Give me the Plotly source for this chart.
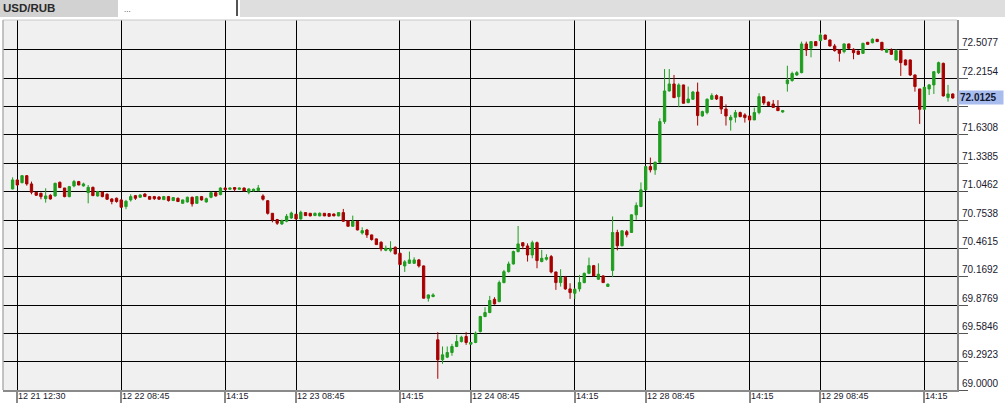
import plotly.graph_objects as go

# ---------------- data ----------------
bar_index = list(range(200))

open_ = [
71.074,71.167,71.139,71.211,71.126,71.040,71.029,70.974,71.009,71.002,
71.143,71.084,70.995,71.105,71.150,71.105,71.036,71.091,71.002,71.043,
71.019,70.971,70.978,70.961,70.892,70.961,71.005,70.988,71.022,70.995,
70.995,70.992,70.964,70.995,70.954,70.978,70.926,70.940,70.988,70.926,
70.995,70.940,70.988,71.036,71.016,71.084,71.071,71.088,71.071,71.084,
71.040,71.054,71.057,71.002,70.953,70.823,70.758,70.713,70.741,70.775,
70.813,70.765,70.830,70.823,70.799,70.796,70.823,70.820,70.816,70.796,
70.830,70.747,70.689,70.741,70.620,70.651,70.600,70.559,70.524,70.442,
70.438,70.473,70.411,70.280,70.307,70.307,70.342,70.280,69.947,69.964,
69.518,69.312,69.339,69.387,69.449,69.500,69.552,69.473,69.490,69.603,
69.758,69.799,69.936,69.912,70.108,70.221,70.300,70.428,70.520,70.486,
70.393,70.520,70.325,70.349,70.376,70.218,70.108,70.163,70.043,69.998,
70.043,70.108,70.204,70.283,70.143,70.177,70.069,70.234,70.625,70.488,
70.633,70.625,70.807,70.893,71.065,71.305,71.271,71.350,71.769,72.085,
72.157,72.026,72.147,71.965,71.999,72.074,71.827,71.862,71.999,72.037,
72.026,71.899,71.786,71.814,71.862,71.838,71.827,71.786,71.862,72.026,
71.970,71.950,71.915,71.868,72.160,72.192,72.250,72.274,72.570,72.525,
72.594,72.604,72.662,72.611,72.549,72.508,72.491,72.570,72.515,72.497,
72.473,72.587,72.583,72.618,72.587,72.484,72.508,72.405,72.501,72.405,
72.405,72.250,72.106,71.896,72.106,72.147,72.274,72.370,72.017,72.054,
]

high_ = [
71.194,71.172,71.218,71.218,71.150,71.043,71.036,71.081,71.019,71.139,
71.150,71.084,71.105,71.167,71.157,71.139,71.115,71.098,71.054,71.047,
71.029,70.978,70.985,70.968,70.961,71.019,71.012,71.019,71.029,71.002,
71.002,70.998,71.002,71.002,70.988,70.985,70.964,70.995,70.995,71.002,
71.002,70.985,71.047,71.043,71.091,71.088,71.088,71.091,71.088,71.088,
71.081,71.078,71.115,71.019,70.960,70.826,70.765,70.758,70.816,70.840,
70.816,70.850,70.833,70.826,70.830,70.833,70.826,70.823,70.820,70.833,
70.868,70.750,70.799,70.744,70.679,70.662,70.603,70.562,70.535,70.490,
70.535,70.480,70.414,70.340,70.428,70.369,70.352,70.285,69.985,69.998,
69.597,69.449,69.449,69.476,69.569,69.559,69.597,69.493,69.603,69.765,
69.854,69.971,69.957,70.129,70.239,70.325,70.438,70.692,70.522,70.513,
70.541,70.531,70.445,70.400,70.393,70.218,70.246,70.177,70.101,70.050,
70.187,70.211,70.366,70.290,70.307,70.183,70.101,70.790,70.653,70.648,
70.651,70.812,70.935,71.141,71.312,71.398,71.355,71.803,72.311,72.311,
72.250,72.164,72.150,72.130,72.085,72.171,71.882,72.009,72.061,72.050,
72.026,71.947,71.838,71.889,71.872,71.855,71.827,71.913,72.061,72.026,
71.975,71.992,71.990,71.889,72.345,72.284,72.290,72.594,72.594,72.594,
72.600,72.686,72.665,72.615,72.570,72.515,72.576,72.573,72.525,72.501,
72.583,72.590,72.628,72.621,72.590,72.518,72.525,72.515,72.508,72.410,
72.410,72.255,72.106,72.130,72.157,72.284,72.388,72.377,72.147,72.060,
]

low_ = [
71.070,71.108,71.132,71.108,71.019,71.002,70.968,70.933,70.964,70.995,
71.084,70.988,70.988,71.091,71.112,71.098,70.926,71.002,70.995,70.988,
70.961,70.916,70.933,70.882,70.865,70.944,70.961,70.985,70.992,70.964,
70.961,70.964,70.961,70.944,70.951,70.940,70.923,70.933,70.892,70.923,
70.954,70.933,70.978,70.995,71.009,71.064,71.067,71.047,71.067,71.050,
71.019,71.047,71.050,70.954,70.810,70.730,70.703,70.703,70.730,70.765,
70.758,70.758,70.796,70.792,70.796,70.792,70.796,70.792,70.796,70.792,
70.734,70.686,70.686,70.648,70.603,70.569,70.541,70.497,70.432,70.432,
70.421,70.400,70.290,70.218,70.300,70.300,70.263,69.944,69.912,69.957,
69.116,69.270,69.329,69.353,69.442,69.490,69.466,69.470,69.483,69.593,
69.751,69.792,69.882,69.906,70.101,70.211,70.294,70.420,70.452,70.325,
70.359,70.256,70.318,70.335,70.204,70.033,70.067,70.033,69.940,69.940,
70.015,70.101,70.194,70.170,70.136,70.105,70.065,70.165,70.440,70.482,
70.575,70.620,70.756,70.886,71.060,71.244,71.220,71.345,71.745,72.078,
72.012,71.917,71.955,71.958,71.992,71.728,71.820,71.844,71.992,71.992,
71.848,71.728,71.676,71.759,71.814,71.759,71.769,71.786,71.844,71.941,
71.930,71.913,71.880,71.860,72.078,72.181,72.240,72.267,72.446,72.432,
72.549,72.600,72.615,72.545,72.491,72.388,72.473,72.520,72.412,72.460,
72.467,72.562,72.576,72.590,72.504,72.480,72.456,72.398,72.240,72.350,
72.240,72.078,71.745,71.889,72.044,72.054,72.260,72.027,71.975,72.005,
]

close_ = [
71.167,71.115,71.211,71.126,71.040,71.009,70.995,71.002,70.971,71.132,
71.088,70.995,71.098,71.150,71.115,71.126,71.091,71.005,71.047,70.995,
70.968,70.944,70.944,70.885,70.947,70.995,70.978,71.012,70.995,70.968,
70.974,70.968,70.995,70.954,70.985,70.944,70.961,70.988,70.920,70.995,
70.961,70.974,71.036,71.002,71.084,71.067,71.084,71.071,71.084,71.054,
71.074,71.071,71.084,70.968,70.823,70.754,70.720,70.747,70.792,70.826,
70.765,70.833,70.799,70.796,70.823,70.823,70.796,70.792,70.796,70.830,
70.741,70.689,70.741,70.651,70.644,70.600,70.552,70.500,70.456,70.462,
70.462,70.404,70.294,70.322,70.342,70.342,70.280,69.947,69.981,69.981,
69.312,69.363,69.387,69.449,69.500,69.545,69.490,69.490,69.586,69.758,
69.799,69.923,69.888,70.108,70.221,70.300,70.428,70.507,70.486,70.393,
70.520,70.335,70.359,70.366,70.218,70.108,70.163,70.043,70.005,70.039,
70.108,70.204,70.283,70.177,70.194,70.108,70.091,70.625,70.488,70.642,
70.601,70.807,70.904,71.065,71.305,71.271,71.350,71.769,72.085,72.157,
72.016,72.147,71.958,72.002,72.074,71.831,71.872,71.999,72.037,72.002,
71.899,71.827,71.814,71.862,71.820,71.810,71.786,71.862,72.026,71.962,
71.935,71.915,71.882,71.882,72.198,72.265,72.274,72.570,72.508,72.594,
72.552,72.662,72.618,72.549,72.501,72.473,72.570,72.525,72.480,72.463,
72.576,72.566,72.618,72.594,72.508,72.515,72.463,72.501,72.377,72.353,
72.250,72.130,71.896,72.123,72.147,72.284,72.377,72.034,72.054,72.0125,
]

tick_index = [1, 23, 45, 60, 82, 97, 119, 134, 156, 171, 193]
tick_labels = ["12 21 12:30", "12 22 08:45", "14:15", "12 23 08:45", "14:15",
               "12 24 08:45", "14:15", "12 28 08:45", "14:15", "12 29 08:45", "14:15"]

price_ticks = [69.0000, 69.2923, 69.5846, 69.8769, 70.1692, 70.4615, 70.7538,
               71.0462, 71.3385, 71.6308, 71.9231, 72.2154, 72.5077]
price_labels = ["69.0000", "69.2923", "69.5846", "69.8769", "70.1692", "70.4615", "70.7538",
                "71.0462", "71.3385", "71.6308", "", "72.2154", "72.5077"]

last_price = 72.0125
symbol = "USD/RUB"

# ---------------- figure ----------------
GREEN = "#1f9d1f"
RED = "#a80000"
FONT = "Liberation Sans, Arial, sans-serif"

fig = go.Figure(go.Candlestick(
    x=bar_index, open=open_, high=high_, low=low_, close=close_,
    increasing=dict(line=dict(color=GREEN, width=1), fillcolor=GREEN),
    decreasing=dict(line=dict(color=RED, width=1), fillcolor=RED),
    whiskerwidth=0, showlegend=False, hoverinfo="skip",
))

W, H = 1005, 414
ML, MR, MT, MB = 3, 48, 20, 24
PW, PH = W - ML - MR, H - MT - MB

def px_to_paper_x(px):
    return (px - ML) / PW

def px_to_paper_y(py):
    return (H - MB - py) / PH

fig.update_layout(
    width=W, height=H,
    margin=dict(l=ML, r=MR, t=MT, b=MB, pad=0),
    paper_bgcolor="white",
    plot_bgcolor="#f0f0f0",
    boxgap=0.3,
    font=dict(family=FONT, size=10, color="#111"),
    xaxis=dict(
        type="linear", range=[-2.03, 199.9],
        tickvals=tick_index, showticklabels=False,
        ticks="outside", ticklen=11, tickcolor="#8a8a8a", tickwidth=1.5,
        showgrid=True, gridcolor="#000000", gridwidth=1.3,
        showline=True, linecolor="#8a8a8a", linewidth=2,
        zeroline=False, rangeslider=dict(visible=False), fixedrange=True,
    ),
    yaxis=dict(
        side="right", range=[69.0, 72.817],
        tickvals=price_ticks, ticktext=price_labels,
        ticks="outside", ticklen=9, tickcolor="#555", tickwidth=1.3,
        ticklabelshift=-7, ticklabelstandoff=-8,
        tickfont=dict(size=10, color="#1a1a2e", family=FONT),
        showgrid=True, gridcolor="#000000", gridwidth=1.3,
        showline=True, linecolor="#8a8a8a", linewidth=2,
        zeroline=False, fixedrange=True,
    ),
)

shapes = []
# tab bar
shapes.append(dict(type="rect", xref="paper", yref="paper",
                   x0=px_to_paper_x(0), x1=px_to_paper_x(118),
                   y0=px_to_paper_y(17), y1=px_to_paper_y(0),
                   fillcolor="#d2d2d2", line=dict(width=0), layer="above"))
shapes.append(dict(type="rect", xref="paper", yref="paper",
                   x0=px_to_paper_x(120), x1=px_to_paper_x(236),
                   y0=px_to_paper_y(17), y1=px_to_paper_y(0),
                   fillcolor="#ffffff", line=dict(width=0), layer="above"))
shapes.append(dict(type="line", xref="paper", yref="paper",
                   x0=px_to_paper_x(237), x1=px_to_paper_x(237),
                   y0=px_to_paper_y(16), y1=px_to_paper_y(0),
                   line=dict(color="#555", width=2), layer="above"))
shapes.append(dict(type="rect", xref="paper", yref="paper",
                   x0=px_to_paper_x(240), x1=px_to_paper_x(1005),
                   y0=px_to_paper_y(17), y1=px_to_paper_y(0),
                   fillcolor="#dedede", line=dict(width=0), layer="above"))
# plot frame
shapes.append(dict(type="line", xref="paper", yref="paper",
                   x0=0, x1=1, y0=1, y1=1,
                   line=dict(color="#c8c8c8", width=1), layer="above"))
shapes.append(dict(type="line", xref="paper", yref="paper",
                   x0=0, x1=0, y0=0, y1=1,
                   line=dict(color="#b0b0b0", width=1.5), layer="above"))
fig.update_layout(shapes=shapes)

annotations = []
annotations.append(dict(xref="paper", yref="paper",
                        x=px_to_paper_x(1), y=px_to_paper_y(8.5),
                        xanchor="left", yanchor="middle", showarrow=False,
                        text="<b>" + symbol + "</b>",
                        font=dict(size=11.5, color="#2a2a2a", family=FONT)))
annotations.append(dict(xref="paper", yref="paper",
                        x=px_to_paper_x(122), y=px_to_paper_y(9),
                        xanchor="left", yanchor="middle", showarrow=False,
                        text="...", font=dict(size=8, color="#333", family=FONT)))
for idx, lab in zip(tick_index, tick_labels):
    annotations.append(dict(xref="x", yref="paper", x=idx, y=0,
                            xanchor="left", yanchor="top", xshift=-1, yshift=1,
                            showarrow=False, text=lab,
                            font=dict(size=9, color="#1a1a2e", family=FONT)))
annotations.append(dict(xref="paper", yref="y", x=1, y=last_price,
                        xanchor="left", yanchor="middle", xshift=1,
                        showarrow=False, text="<b>%.4f</b>" % last_price,
                        bgcolor="#a9bcee", borderpad=1, width=42, align="left",
                        font=dict(size=10, color="#101830", family=FONT)))
fig.update_layout(annotations=annotations)

fig.write_html("out.html", config={"displayModeBar": False},
               post_script="document.body.style.margin='0';document.body.style.overflow='hidden';")
